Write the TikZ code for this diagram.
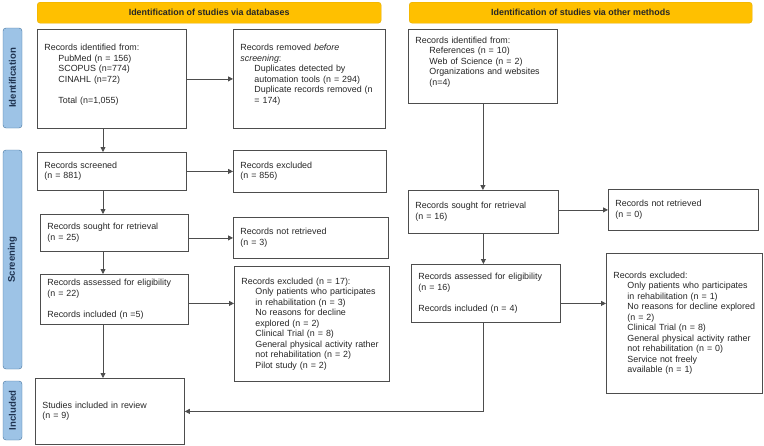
\documentclass[tikz,border=0pt]{standalone}
\usepackage{fontspec}
\setmainfont{Liberation Sans}
\usetikzlibrary{arrows.meta}
\definecolor{hdrfill}{HTML}{FFC000}
\definecolor{hdrline}{HTML}{E3AC00}
\definecolor{sidefill}{HTML}{9DC3E6}
\definecolor{sideline}{HTML}{41719C}
\definecolor{sidetext}{HTML}{1F3350}
\definecolor{boxline}{HTML}{4D4D4D}
\newcommand{\subin}{\hspace*{14pt}}

\begin{document}
\begin{tikzpicture}[x=1pt,y=-1pt,->,>={Triangle[length=5pt,width=5pt]},
    every node/.style={font=\fontsize{8.9}{10.5}\selectfont,text=black!85},
    every edge/.style={draw=boxline,line width=0.8pt},
    main node/.style={draw=boxline,line width=0.8pt,anchor=north west,align=left,inner xsep=7pt,inner ysep=0pt},
    head node/.style={draw=hdrline,fill=hdrfill,rounded corners=3pt,anchor=north west,minimum height=21pt,font=\fontsize{8.9}{10.5}\selectfont\bfseries},
    side node/.style={draw=sideline,fill=sidefill,rounded corners=3pt,rotate=90,minimum height=19pt,text=sidetext,font=\fontsize{9.6}{11}\selectfont\bfseries}]

  \useasboundingbox (0,0) rectangle (764,445);

  % headers and phases
  \node[head node,minimum width=344pt] (14) at (37,2) {Identification of studies via databases};
  \node[head node,minimum width=343pt] (15) at (409,2) {Identification of studies via other methods};
  \node[side node,minimum width=100pt] (16) at (12.5,78) {Identification};
  \node[side node,minimum width=219pt] (17) at (12.5,259.5) {Screening};
  \node[side node,minimum width=59pt] (18) at (12.5,410.5) {Included};

  % databases
  \node[main node,minimum width=149pt,text width=135pt,minimum height=99pt] (0) at (37,29)
    {Records identified from:\\ \subin PubMed (n = 156)\\ \subin SCOPUS (n=774)\\ \subin CINAHL (n=72)\\ \mbox{}\\ \subin Total (n=1,055)\\ \mbox{}};
  \node[main node,minimum width=152pt,text width=138pt,minimum height=99pt] (1) at (233,29)
    {Records removed \textit{before}\\ \textit{screening}:\\ \subin Duplicates detected by\\ \subin automation tools (n = 294)\\ \subin Duplicate records removed (n\\ \subin = 174)\\ \mbox{}};
  \node[main node,minimum width=149pt,text width=135pt,minimum height=38pt] (2) at (37,152)
    {Records screened\\(n = 881)};
  \node[main node,minimum width=153pt,text width=139pt,minimum height=42pt] (3) at (233,150)
    {Records excluded\\(n = 856)};
  \node[main node,minimum width=148pt,text width=134pt,minimum height=37pt] (4) at (40,214)
    {Records sought for retrieval\\(n = 25)};
  \node[main node,minimum width=155pt,text width=141pt,minimum height=41pt] (5) at (233,217)
    {Records not retrieved\\(n = 3)};
  \node[main node,minimum width=148pt,text width=134pt,minimum height=50pt] (6) at (40,274)
    {Records assessed for eligibility\\(n = 22)\\ \mbox{}\\ Records included (n =5)};
  \node[main node,minimum width=155pt,text width=141pt,minimum height=115pt] (7) at (234,266)
    {Records excluded (n = 17):\\ \subin Only patients who participates\\ \subin in rehabilitation (n = 3)\\ \subin No reasons for decline\\ \subin explored (n = 2)\\ \subin Clinical Trial (n = 8)\\ \subin General physical activity rather\\ \subin not rehabilitation (n = 2)\\ \subin Pilot study (n = 2)};
  \node[main node,minimum width=149pt,text width=135pt,minimum height=66pt] (8) at (35,378)
    {Studies included in review\\(n = 9)};

  % other methods
  \node[main node,minimum width=149pt,text width=135pt,minimum height=74pt] (9) at (408,29)
    {Records identified from:\\ \subin References (n = 10)\\ \subin Web of Science (n = 2)\\ \subin Organizations and websites\\ \subin (n=4)\\ \mbox{}};
  \node[main node,minimum width=150pt,text width=136pt,minimum height=43pt] (10) at (408,190)
    {Records sought for retrieval\\(n = 16)};
  \node[main node,minimum width=150pt,text width=136pt,minimum height=41pt] (11) at (608,189)
    {Records not retrieved\\(n = 0)};
  \node[main node,minimum width=149pt,text width=135pt,minimum height=58pt] (12) at (411,264)
    {Records assessed for eligibility\\(n = 16)\\ \mbox{}\\ Records included (n = 4)};
  \node[main node,minimum width=156pt,text width=142pt,minimum height=140pt] (13) at (606,253)
    {Records excluded:\\ \subin Only patients who participates\\ \subin in rehabilitation (n = 1)\\ \subin No reasons for decline explored\\ \subin (n = 2)\\ \subin Clinical Trial (n = 8)\\ \subin General physical activity rather\\ \subin not rehabilitation (n = 0)\\ \subin Service not freely\\ \subin available (n = 1)};

  \coordinate (c) at (103,0);

  \path
    (0) edge (1)
    (0.south -| c) edge (2.north -| c)
    (2) edge (3)
    (2.south -| c) edge (4.north -| c)
    (5.west -| 4.east) edge (5.west)
    (4.south -| c) edge (6.north -| c)
    ([yshift=-4pt]6.east) edge ([yshift=-4pt]6.east -| 7.west)
    (6.south -| c) edge (8.north -| c)
    (9.south) edge (9.south |- 10.north)
    (11.west -| 10.east) edge (11.west)
    (10.south) edge (10.south |- 12.north)
    ([yshift=-10pt]12.east) edge ([yshift=-10pt]12.east -| 13.west)
    (12.south -| 9.south) edge [to path={|- (\tikztotarget)}] (8.east);
\end{tikzpicture}
\end{document}
